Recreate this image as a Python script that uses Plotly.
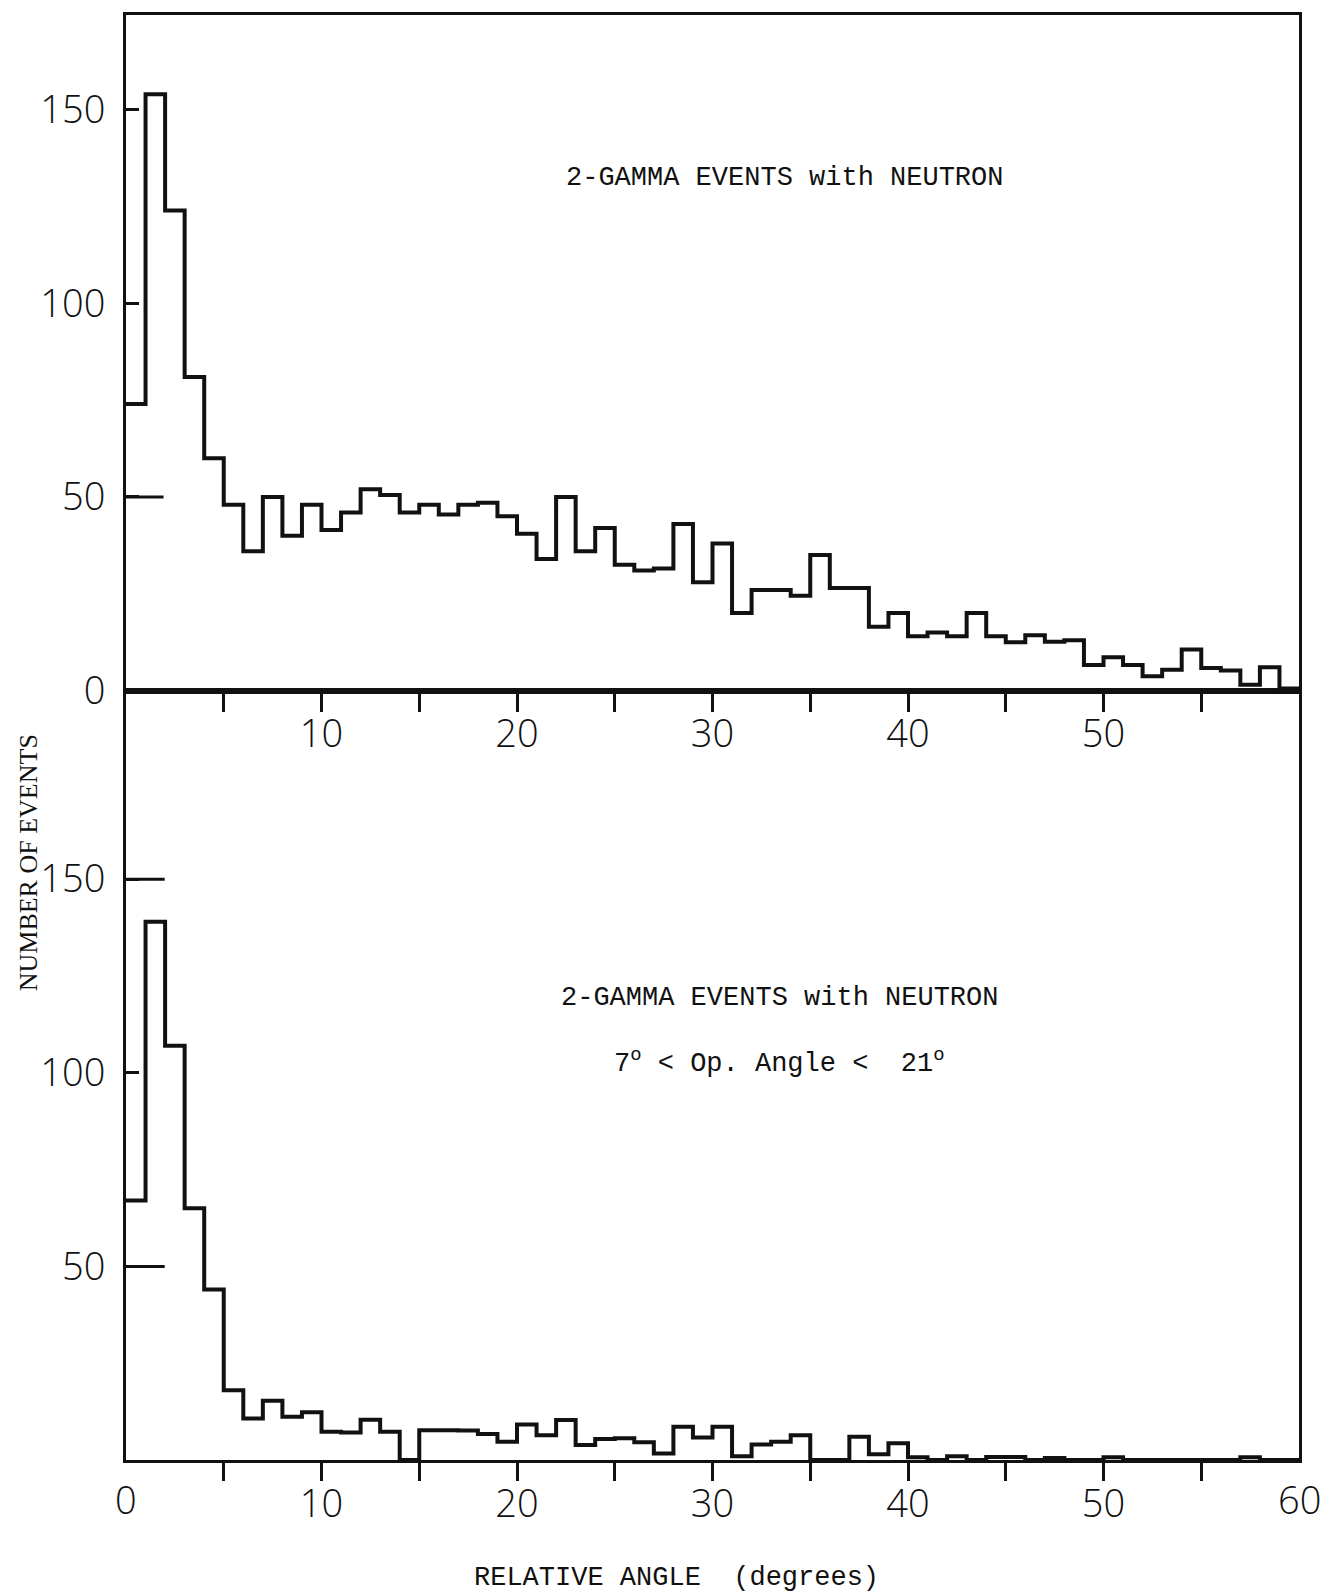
import plotly.graph_objects as go

# ---------------- data ----------------
bin_edges = list(range(0, 61))  # 1-degree bins, 0..60 degrees

top_counts = [74, 154, 124, 81, 60, 48, 36, 50, 40, 48,
              41.5, 46, 52, 50.5, 46, 48, 45.5, 48, 48.5, 45,
              40.5, 34, 50, 36, 42, 32.5, 31, 31.5, 43, 28,
              38, 20, 26, 26, 24.5, 35, 26.5, 26.5, 16.5, 20,
              14, 15, 14, 20, 14, 12.5, 14.3, 12.6, 13, 6.6,
              8.6, 6.6, 3.7, 5.4, 10.6, 5.8, 5.2, 1.5, 6, 0.5]

bottom_counts = [67, 139, 107, 65, 44, 18, 10.7, 15.3, 11.2, 12.3,
                 7.3, 7.1, 10.4, 7.3, 0, 7.7, 7.7, 7.6, 6.7, 4.7,
                 9.2, 6.4, 10.3, 3.9, 5.4, 5.6, 4.6, 1.7, 8.6, 5.8,
                 8.6, 1, 4, 4.7, 6.4, 0, 0, 6, 1.5, 4.3,
                 0.7, 0, 1, 0, 0.8, 0.8, 0, 0.5, 0, 0,
                 0.7, 0, 0, 0, 0, 0, 0, 0.7, 0, 0]

x_major_ticks = [10, 20, 30, 40, 50]
x_minor_ticks = [5, 15, 25, 35, 45, 55]
x_end_labels = [0, 60]
top_y_ticks = [0, 50, 100, 150]
bottom_y_ticks = [50, 100, 150]
top_long_ticks = [50]
bottom_long_ticks = [150, 50]

top_label = "2-GAMMA EVENTS with NEUTRON"
bottom_label_1 = "2-GAMMA EVENTS with NEUTRON"
bottom_label_2 = "7<sup>o</sup> &lt; Op. Angle &lt;  21<sup>o</sup>"
y_title = "NUMBER OF EVENTS"
x_title = "RELATIVE ANGLE  (degrees)"

# ---------------- styling ----------------
INK = "#111111"
TICK_FONT = dict(family="Open Sans, DejaVu Sans, sans-serif", size=38, color=INK, weight=300)
MONO_FONT = dict(family="Liberation Mono, Courier New, monospace", size=27, color=INK)
SERIF_FONT = dict(family="Liberation Serif, Times New Roman, serif", size=26, color=INK)

split = 0.5325

fig = go.Figure()
fig.add_trace(go.Scatter(x=bin_edges, y=top_counts + [top_counts[-1]],
                         mode="lines", line=dict(shape="hv", color=INK, width=4),
                         xaxis="x2", yaxis="y2", showlegend=False, hoverinfo="skip"))
fig.add_trace(go.Scatter(x=bin_edges, y=bottom_counts + [bottom_counts[-1]],
                         mode="lines", line=dict(shape="hv", color=INK, width=4),
                         xaxis="x", yaxis="y", showlegend=False, hoverinfo="skip"))

xcommon = dict(range=[0, 60], showline=True, linecolor=INK, linewidth=3, mirror=True,
               showgrid=False, zeroline=False, ticks="outside", ticklen=18, tickwidth=3,
               tickcolor=INK, tickvals=x_major_ticks, ticktext=[str(v) for v in x_major_ticks],
               tickfont=TICK_FONT, ticklabelstandoff=-10,
               minor=dict(tickvals=x_minor_ticks, ticks="outside", ticklen=18,
                          tickwidth=3, tickcolor=INK, showgrid=False))
ycommon = dict(showline=True, linecolor=INK, linewidth=3, mirror=True, showgrid=False,
               zeroline=False, ticks="inside", ticklen=13, tickwidth=3, tickcolor=INK,
               tickfont=TICK_FONT, ticklabelstandoff=10)

fig.update_layout(
    width=1330, height=1596,
    margin=dict(l=126, r=31, t=12, b=136),
    paper_bgcolor="white", plot_bgcolor="white",
    xaxis=dict(domain=[0, 1], anchor="y", **xcommon),
    yaxis=dict(domain=[0, split], anchor="x", range=[0, 198.7],
               tickvals=bottom_y_ticks, ticktext=[str(v) for v in bottom_y_ticks], **ycommon),
    xaxis2=dict(domain=[0, 1], anchor="y2", **xcommon),
    yaxis2=dict(domain=[split, 1], anchor="x2", range=[0, 174.5],
                tickvals=top_y_ticks, ticktext=[str(v) for v in top_y_ticks], **ycommon),
)

# longer tick marks on selected y values
for v in top_long_ticks:
    fig.add_shape(type="line", xref="x2 domain", yref="y2", x0=0, x1=0.032, y0=v, y1=v,
                  line=dict(color=INK, width=3))
for v in bottom_long_ticks:
    fig.add_shape(type="line", xref="x domain", yref="y", x0=0, x1=0.033, y0=v, y1=v,
                  line=dict(color=INK, width=3))

# end labels of the bottom x axis
for v in x_end_labels:
    fig.add_annotation(x=v, xref="x", y=0, yref="paper", text=str(v), showarrow=False,
                       xanchor="center", yanchor="top", yshift=-11, font=TICK_FONT)

def label(x, y, text, font, angle=0):
    fig.add_annotation(x=x, y=y, xref="paper", yref="paper", text=text, showarrow=False,
                       xanchor="center", yanchor="middle", textangle=angle, font=font)

label(0.561, 0.8874, top_label, MONO_FONT)
label(0.5575, 0.3198, bottom_label_1, MONO_FONT)
label(0.5575, 0.2756, bottom_label_2, MONO_FONT)
label(-0.0835, 0.413, y_title, SERIF_FONT, angle=-90)
label(0.4697, -0.0815, x_title, MONO_FONT)

fig.write_html("out.html")
